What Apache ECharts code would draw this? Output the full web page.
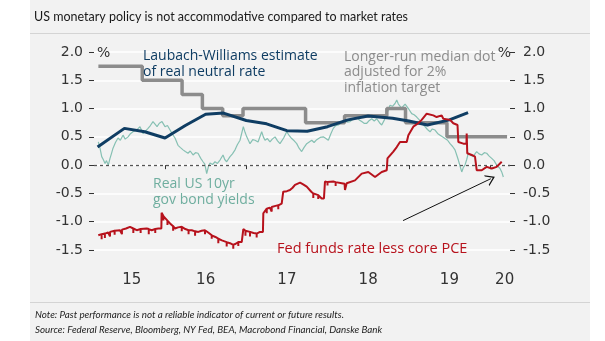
<!DOCTYPE html>
<html><head><meta charset="utf-8">
<script src="https://cdn.jsdelivr.net/npm/echarts@6/dist/echarts.min.js"></script>
<style>html,body{margin:0;padding:0;background:#fff}#c{width:605px;height:341px}</style>
</head><body><div id="c"></div>
<script>
// ---- tick labels ----
const yearLabels = ['15','16','17','18','19','20'];
const yearTicks = [2016, 2017, 2018, 2019, 2020];

// ---- Longer-run median dot adjusted for 2% inflation target (step) ----
const dotDates  = [2015.18, 2015.72, 2016.21, 2016.46, 2016.71, 2016.96, 2017.73, 2018.21, 2018.73, 2018.96, 2019.47, 2020.21];
const dotValues = [1.75, 1.5, 1.25, 1.0, 0.875, 1.0, 0.75, 0.875, 1.0, 0.75, 0.5, 0.5];

// ---- Laubach-Williams estimate of real neutral rate ----
const lwDates  = [2015.17, 2015.5, 2015.75, 2016.0, 2016.25, 2016.5, 2016.72, 2017.0, 2017.25, 2017.5, 2017.75, 2018.0, 2018.25, 2018.5, 2018.8, 2019.0, 2019.23, 2019.5, 2019.73];
const lwValues = [0.32, 0.65, 0.59, 0.48, 0.70, 0.90, 0.92, 0.79, 0.73, 0.61, 0.60, 0.68, 0.80, 0.87, 0.83, 0.78, 0.71, 0.80, 0.93];

// ---- Real US 10yr gov bond yields ----
const realDates = [2015.179,2015.20,2015.221,2015.24,2015.262,2015.28,2015.302,2015.323,2015.34,2015.36,2015.39,2015.422,2015.45,2015.483,2015.51,2015.545,2015.57,2015.606,2015.65,2015.692,2015.729,2015.76,2015.791,2015.82,2015.852,2015.88,2015.902,2015.93,2015.963,2016.0,2016.03,2016.062,2016.09,2016.123,2016.16,2016.19,2016.222,2016.25,2016.283,2016.31,2016.345,2016.375,2016.406,2016.44,2016.468,2016.49,2016.513,2016.535,2016.554,2016.585,2016.615,2016.645,2016.677,2016.714,2016.735,2016.759,2016.8,2016.83,2016.862,2016.89,2016.923,2016.964,2016.985,2017.006,2017.046,2017.08,2017.108,2017.145,2017.19,2017.21,2017.231,2017.26,2017.292,2017.32,2017.354,2017.385,2017.415,2017.46,2017.498,2017.53,2017.559,2017.59,2017.621,2017.65,2017.682,2017.71,2017.744,2017.775,2017.806,2017.835,2017.867,2017.91,2017.948,2017.98,2018.01,2018.04,2018.071,2018.1,2018.133,2018.17,2018.215,2018.245,2018.277,2018.32,2018.359,2018.39,2018.421,2018.45,2018.483,2018.515,2018.544,2018.575,2018.606,2018.64,2018.667,2018.7,2018.729,2018.75,2018.769,2018.8,2018.831,2018.852,2018.872,2018.892,2018.912,2018.933,2018.955,2018.975,2019.005,2019.036,2019.066,2019.098,2019.13,2019.159,2019.18,2019.2,2019.23,2019.262,2019.29,2019.323,2019.355,2019.385,2019.415,2019.446,2019.478,2019.508,2019.54,2019.569,2019.59,2019.61,2019.632,2019.652,2019.672,2019.692,2019.713,2019.733,2019.765,2019.794,2019.815,2019.836,2019.865,2019.898,2019.93,2019.959,2019.99,2020.021,2020.05,2020.082,2020.1,2020.123,2020.144,2020.164];
const realValues = [0.41,0.30,0.15,0.10,0.03,0.08,0.00,0.12,0.20,0.30,0.40,0.48,0.44,0.53,0.46,0.50,0.55,0.59,0.62,0.68,0.56,0.60,0.65,0.70,0.77,0.72,0.68,0.74,0.77,0.68,0.70,0.62,0.55,0.48,0.35,0.31,0.27,0.24,0.21,0.25,0.18,0.22,0.21,0.12,0.06,0.02,-0.15,-0.02,0.04,0.01,0.06,0.03,0.09,0.18,0.10,0.06,0.15,0.20,0.27,0.36,0.44,0.68,0.58,0.50,0.38,0.45,0.44,0.41,0.59,0.50,0.44,0.47,0.41,0.46,0.50,0.43,0.38,0.48,0.59,0.52,0.47,0.43,0.38,0.30,0.24,0.31,0.38,0.41,0.44,0.40,0.45,0.49,0.50,0.47,0.44,0.55,0.65,0.70,0.71,0.75,0.80,0.76,0.77,0.82,0.85,0.80,0.77,0.74,0.74,0.79,0.82,0.78,0.82,0.75,0.71,0.80,0.91,0.98,1.06,1.04,1.09,1.15,1.08,1.06,1.01,1.03,1.08,1.06,0.98,0.91,0.89,0.85,0.80,0.74,0.71,0.68,0.63,0.59,0.64,0.62,0.56,0.53,0.50,0.47,0.44,0.38,0.33,0.27,0.18,0.09,-0.02,-0.12,-0.04,0.00,0.10,0.21,0.17,0.15,0.20,0.24,0.20,0.18,0.22,0.21,0.16,0.12,0.08,0.00,-0.03,-0.06,-0.12,-0.21];

// ---- Fed funds rate less core PCE ----
const fedDates = [2015.179,2015.22,2015.22,2015.22,2015.26,2015.26,2015.26,2015.30,2015.323,2015.323,2015.323,2015.38,2015.38,2015.38,2015.446,2015.47,2015.47,2015.47,2015.52,2015.569,2015.61,2015.61,2015.61,2015.652,2015.70,2015.70,2015.70,2015.775,2015.80,2015.80,2015.80,2015.836,2015.88,2015.88,2015.88,2015.918,2015.955,2015.958,2015.98,2015.98,2015.98,2016.0,2016.03,2016.03,2016.03,2016.062,2016.10,2016.10,2016.10,2016.123,2016.16,2016.206,2016.206,2016.206,2016.25,2016.29,2016.29,2016.29,2016.329,2016.37,2016.37,2016.37,2016.41,2016.45,2016.492,2016.492,2016.492,2016.54,2016.575,2016.575,2016.575,2016.62,2016.656,2016.656,2016.656,2016.70,2016.759,2016.759,2016.759,2016.80,2016.84,2016.84,2016.84,2016.87,2016.902,2016.902,2016.902,2016.944,2016.962,2016.964,2016.99,2016.99,2016.99,2017.046,2017.046,2017.046,2017.09,2017.128,2017.128,2017.128,2017.169,2017.205,2017.21,2017.252,2017.252,2017.252,2017.29,2017.313,2017.313,2017.313,2017.36,2017.394,2017.394,2017.394,2017.436,2017.452,2017.455,2017.50,2017.538,2017.57,2017.60,2017.662,2017.70,2017.744,2017.763,2017.80,2017.825,2017.825,2017.825,2017.886,2017.886,2017.886,2017.928,2017.956,2017.969,2018.0,2018.0,2018.0,2018.071,2018.10,2018.10,2018.10,2018.175,2018.21,2018.215,2018.236,2018.338,2018.421,2018.502,2018.585,2018.667,2018.729,2018.738,2018.81,2018.852,2018.892,2018.975,2018.995,2019.056,2019.117,2019.159,2019.221,2019.24,2019.302,2019.343,2019.405,2019.425,2019.508,2019.548,2019.569,2019.60,2019.61,2019.672,2019.71,2019.713,2019.72,2019.775,2019.815,2019.836,2019.898,2019.959,2020.021,2020.082,2020.123,2020.144];
const fedValues = [-1.24,-1.22,-1.31,-1.22,-1.21,-1.29,-1.21,-1.19,-1.18,-1.26,-1.18,-1.16,-1.23,-1.16,-1.15,-1.14,-1.22,-1.14,-1.12,-1.09,-1.12,-1.20,-1.12,-1.15,-1.13,-1.20,-1.13,-1.12,-1.13,-1.22,-1.13,-1.15,-1.13,-1.20,-1.13,-1.12,-1.12,-0.84,-0.90,-0.98,-0.90,-0.92,-0.98,-1.06,-0.98,-1.03,-1.08,-1.16,-1.08,-1.12,-1.10,-1.09,-1.17,-1.09,-1.13,-1.15,-1.22,-1.15,-1.15,-1.17,-1.25,-1.17,-1.18,-1.16,-1.15,-1.22,-1.15,-1.20,-1.24,-1.30,-1.24,-1.27,-1.30,-1.38,-1.30,-1.33,-1.36,-1.44,-1.36,-1.38,-1.41,-1.48,-1.41,-1.39,-1.36,-1.43,-1.36,-1.36,-1.36,-1.13,-1.16,-1.25,-1.16,-1.18,-1.26,-1.18,-1.20,-1.21,-1.28,-1.21,-1.18,-1.18,-0.85,-0.77,-0.85,-0.77,-0.75,-0.74,-0.82,-0.74,-0.72,-0.71,-0.78,-0.71,-0.68,-0.68,-0.47,-0.46,-0.44,-0.40,-0.35,-0.31,-0.34,-0.38,-0.41,-0.47,-0.50,-0.58,-0.50,-0.53,-0.60,-0.53,-0.59,-0.59,-0.29,-0.30,-0.36,-0.30,-0.29,-0.30,-0.37,-0.30,-0.32,-0.33,-0.44,-0.32,-0.27,-0.15,-0.12,-0.21,-0.12,-0.09,0.12,0.24,0.32,0.41,0.41,0.53,0.68,0.74,0.80,0.91,0.88,0.88,0.85,0.88,0.82,0.80,0.74,0.71,0.71,0.41,0.38,0.38,0.56,0.21,0.18,0.15,-0.09,-0.09,-0.03,-0.06,-0.03,0.03,0.06];

// ---- arrow annotation endpoints (data coords) ----
const arrowFrom = [2018.93, -0.98];
const arrowTo   = [2020.01, -0.24];

const zip = (a, b) => a.map((d, i) => [d, b[i]]);

const X_MIN = 2015.126, X_MAX = 2020.246;
const yearLabelPos = [2015.59, 2016.5, 2017.5, 2018.5, 2019.5, 2020.18];

const FONT = 'Lato';
const ANFONT = 'Open Sans';
const AXFONT = 'DejaVu Sans';
const chart = echarts.init(document.getElementById('c'), null, {renderer: 'canvas'});

const yAxisBase = {
  type: 'value', min: -1.5, max: 2, interval: 0.5,
  axisLine: {show: false},
  axisTick: {show: true, length: 5, lineStyle: {color: '#333', width: 1}},
  axisLabel: {color: '#333', fontSize: 14, fontFamily: AXFONT, formatter: v => v.toFixed(1)},
};

const txt = (x, y, text, fill, font, extra) => ({type: 'text', z: 100, x: x, y: y, silent: true,
  style: Object.assign({text: text, fill: fill, font: font}, extra || {})});

chart.setOption({
  backgroundColor: '#ffffff',
  animation: false,
  grid: {left: 94, right: 95, top: 52, bottom: 91, containLabel: false},
  graphic: [
    {type: 'rect', z: -10, silent: true, shape: {x: 30, y: 0, width: 560, height: 341}, style: {fill: '#f2f2f2'}},
    {type: 'line', z: -9, silent: true, shape: {x1: 30, y1: 33.5, x2: 590, y2: 33.5}, style: {stroke: '#d4d4d4', lineWidth: 1}},
    {type: 'line', z: -9, silent: true, shape: {x1: 30, y1: 302.5, x2: 590, y2: 302.5}, style: {stroke: '#d4d4d4', lineWidth: 1}},
    txt(34, 17, 'US monetary policy is not accommodative compared to market rates', '#1a1a1a', '12.5px ' + FONT, {verticalAlign: 'middle'}),
    txt(35, 315, 'Note: Past performance is not a reliable indicator of current or future results.', '#222', 'italic 9.8px ' + FONT, {verticalAlign: 'middle'}),
    txt(35, 330, 'Source: Federal Reserve, Bloomberg, NY Fed, BEA, Macrobond Financial, Danske Bank', '#222', 'italic 9.8px ' + FONT, {verticalAlign: 'middle'}),
    txt(97, 53, '%', '#333', '14px ' + AXFONT, {verticalAlign: 'middle'}),
    txt(511, 53, '%', '#333', '14px ' + AXFONT, {verticalAlign: 'middle', align: 'right'}),
    txt(143, 47.5, 'Laubach-Williams estimate\nof real neutral rate', '#0f3d63', '14px ' + ANFONT, {lineHeight: 16.5, verticalAlign: 'top'}),
    txt(344, 49, 'Longer-run median dot\nadjusted for 2%\ninflation target', '#8c8c8c', '14px ' + ANFONT, {lineHeight: 15.5, verticalAlign: 'top'}),
    txt(153, 176, 'Real US 10yr\ngov bond yields', '#6fae9f', '14px ' + ANFONT, {lineHeight: 16, verticalAlign: 'top'}),
    txt(277, 249, 'Fed funds rate less core PCE', '#b7121c', '14.5px ' + ANFONT, {verticalAlign: 'middle'})
  ],
  xAxis: {
    type: 'value', min: X_MIN, max: X_MAX, offset: 13,
    axisLine: {show: false},
    splitLine: {show: false},
    axisTick: {show: true, customValues: yearTicks, length: 4, lineStyle: {color: '#333', width: 1}},
    axisLabel: {show: true, customValues: yearLabelPos, margin: 10, color: '#333', fontSize: 15, fontFamily: AXFONT,
      formatter: v => yearLabels[yearLabelPos.indexOf(v)]}
  },
  yAxis: [
    Object.assign({}, yAxisBase, {position: 'left', axisLabel: Object.assign({}, yAxisBase.axisLabel, {margin: 11}),
      splitLine: {show: true, lineStyle: {color: '#ffffff', width: 1.5}}}),
    Object.assign({}, yAxisBase, {position: 'right', axisLabel: Object.assign({}, yAxisBase.axisLabel, {margin: 13}),
      splitLine: {show: false}})
  ],
  series: [
    {name: 'Real US 10yr', type: 'line', data: zip(realDates, realValues), showSymbol: false, symbol: 'none',
      lineStyle: {color: '#86c0b3', width: 1.2}, z: 2,
      markLine: {silent: true, symbol: 'none', label: {show: false}, animation: false,
        lineStyle: {color: '#555', width: 1.3, type: [3, 3]}, data: [{yAxis: 0}]}},
    {name: 'Median dot', type: 'line', step: 'end', data: zip(dotDates, dotValues), showSymbol: false, symbol: 'none',
      lineStyle: {color: '#8c8c8c', width: 3.5}, z: 3},
    {name: 'LW', type: 'line', data: zip(lwDates, lwValues), showSymbol: false, symbol: 'none',
      lineStyle: {color: '#0f3d63', width: 3}, z: 4},
    {name: 'Fed funds less core PCE', type: 'line', data: zip(fedDates, fedValues), showSymbol: false, symbol: 'none',
      lineStyle: {color: '#b7121c', width: 2}, z: 5,
      markLine: {silent: true, label: {show: false}, animation: false,
        symbol: ['none', 'path://M0,10 L5,0 L10,10 L8.8,10 L5,2.6 L1.2,10 Z'], symbolSize: [12, 9],
        lineStyle: {color: '#111', width: 1, type: 'solid'},
        data: [[{coord: arrowFrom}, {coord: arrowTo}]]}}
  ]
});
</script>
</body></html>
